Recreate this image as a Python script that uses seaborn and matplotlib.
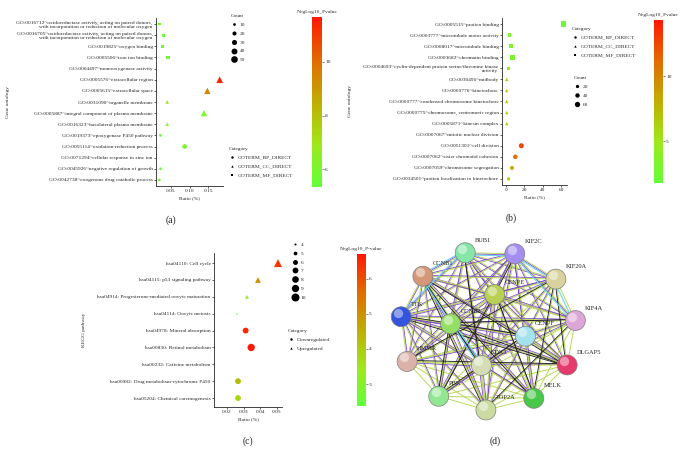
import numpy as np
import pandas as pd
import matplotlib
matplotlib.use("Agg")
import matplotlib.pyplot as plt
import seaborn as sns
from matplotlib.colors import LinearSegmentedColormap, Normalize
from matplotlib.cm import ScalarMappable
from matplotlib.lines import Line2D
from itertools import combinations

# ---------------- (a) GO enrichment ----------------
a_terms = [
    "GO:0016712~oxidoreductase activity, acting on paired donors,\nwith incorporation or reduction of molecular oxygen",
    "GO:0016705~oxidoreductase activity, acting on paired donors,\nwith incorporation or reduction of molecular oxygen",
    "GO:0019825~oxygen binding",
    "GO:0005506~iron ion binding",
    "GO:0004497~monooxygenase activity",
    "GO:0005576~extracellular region",
    "GO:0005615~extracellular space",
    "GO:0031090~organelle membrane",
    "GO:0005887~integral component of plasma membrane",
    "GO:0016323~basolateral plasma membrane",
    "GO:0019373~epoxygenase P450 pathway",
    "GO:0055114~oxidation-reduction process",
    "GO:0071294~cellular response to zinc ion",
    "GO:0045926~negative regulation of growth",
    "GO:0042738~exogenous drug catabolic process",
]
a_category = ["GOTERM_MF_DIRECT", "GOTERM_MF_DIRECT", "GOTERM_MF_DIRECT", "GOTERM_MF_DIRECT",
              "GOTERM_MF_DIRECT", "GOTERM_CC_DIRECT", "GOTERM_CC_DIRECT", "GOTERM_CC_DIRECT",
              "GOTERM_CC_DIRECT", "GOTERM_CC_DIRECT", "GOTERM_BP_DIRECT", "GOTERM_BP_DIRECT",
              "GOTERM_BP_DIRECT", "GOTERM_BP_DIRECT", "GOTERM_BP_DIRECT"]
a_ratio = [0.019, 0.031, 0.028, 0.042, np.nan, 0.181, 0.148, 0.040, 0.139, 0.040,
           0.022, 0.087, np.nan, 0.022, 0.019]
a_count = [4, 6, 6, 14, np.nan, 50, 46, 16, 46, 15, 5, 26, np.nan, 5, 4]
a_logp = [5.6, 5.7, 5.7, 5.9, np.nan, 11.5, 9.4, 7.0, 6.1, 6.3, 5.6, 6.0, np.nan, 5.5, 5.5]

# ---------------- (b) GO enrichment ----------------
b_terms = [
    "GO:0005515~protien binding",
    "GO:0003777~microtubule motor activity",
    "GO:0008017~microtubule binding",
    "GO:0003682~chromatin binding",
    "GO:0004693~cyclin-dependent protein serine/threonine kinase\nactivity",
    "GO:0030496~midbody",
    "GO:0000776~kinetochore",
    "GO:0000777~condensed chromosome kinetochore",
    "GO:0000775~chromosome, centromeric region",
    "GO:0005871~kinesin complex",
    "GO:0007067~mitotic nuclear division",
    "GO:0051301~cell division",
    "GO:0007062~sister chromatid cohesion",
    "GO:0007059~chromosome segregation",
    "GO:0034501~protien localization to kinetochore",
]
b_category = ["GOTERM_MF_DIRECT", "GOTERM_MF_DIRECT", "GOTERM_MF_DIRECT", "GOTERM_MF_DIRECT",
              "GOTERM_MF_DIRECT", "GOTERM_CC_DIRECT", "GOTERM_CC_DIRECT", "GOTERM_CC_DIRECT",
              "GOTERM_CC_DIRECT", "GOTERM_CC_DIRECT", "GOTERM_BP_DIRECT", "GOTERM_BP_DIRECT",
              "GOTERM_BP_DIRECT", "GOTERM_BP_DIRECT", "GOTERM_BP_DIRECT"]
b_ratio = [62, 3.9, 5.4, 7.2, 2.8, 0.8, 0.8, 0.8, 0.8, 0.8, np.nan, 16.6, 10.1, 6.5, 2.8]
b_count = [118, 23, 23, 42, 16, 23, 23, 22, 22, 22, np.nan, 53, 42, 32, 16]
b_logp = [2.2, 3.0, 3.4, 3.2, 4.0, 6.3, 6.3, 6.2, 6.2, 6.0, np.nan, 12.5, 11.0, 8.0, 6.0]

# ---------------- (c) KEGG ----------------
c_terms = [
    "hsa04110: Cell cycle",
    "hsa04115: p53 signaling pathway",
    "hsa04914: Progesterone-mediated oocyte maturation",
    "hsa04114: Oocyte meiosis",
    "hsa04978: Mineral absorption",
    "hsa00830: Retinol metabolism",
    "hsa00232: Caffeine metabolism",
    "hsa00982: Drug metabolism-cytochrome P450",
    "hsa05204: Chemical carcinogenesis",
]
c_category = ["Upregulated", "Upregulated", "Upregulated", "Upregulated",
              "Downregulated", "Downregulated", "Downregulated", "Downregulated", "Downregulated"]
c_ratio = [0.0506, 0.0386, 0.032, 0.026, 0.0312, 0.0345, np.nan, 0.0266, 0.0266]
c_count = [10, 7, 5, 4, 7, 9, np.nan, 7, 7]
c_logp = [6.3, 5.0, 3.0, 2.8, 6.5, 6.7, np.nan, 4.3, 3.8]

# ---------------- (d) STRING network ----------------
outer_nodes = ["BUB1", "KIF2C", "KIF20A", "KIF4A", "DLGAP5", "MELK", "TOP2A",
               "PBK", "HMMR", "TTK", "CCNB1"]
inner_nodes = ["CENPE", "CENPF", "CDK1", "CCNB2"]
node_colors = {"BUB1": "#86e6a8", "KIF2C": "#a48ef2", "KIF20A": "#d9d29c", "KIF4A": "#dca6d6",
               "DLGAP5": "#e63a6c", "MELK": "#48c848", "TOP2A": "#cadca2", "PBK": "#92e892",
               "HMMR": "#dab2aa", "TTK": "#3454e0", "CCNB1": "#d49878", "CENPE": "#b8d054",
               "CENPF": "#a4e2f2", "CDK1": "#d4ddb4", "CCNB2": "#94e064"}
hub_nodes = ["CDK1", "CCNB1", "CCNB2", "BUB1", "TTK", "KIF2C", "CENPE", "CENPF"]
coexp_edges = [("DLGAP5", "CCNB1"), ("DLGAP5", "TTK"), ("DLGAP5", "KIF20A"), ("DLGAP5", "CCNB2"),
               ("MELK", "CCNB1"), ("MELK", "KIF20A"), ("TOP2A", "CCNB1"), ("TOP2A", "KIF4A"),
               ("PBK", "CCNB2"), ("PBK", "CENPF"), ("HMMR", "KIF20A"), ("CDK1", "CCNB1"),
               ("CDK1", "BUB1"), ("CCNB2", "KIF4A"), ("TTK", "CENPF"), ("CENPE", "MELK"),
               ("KIF2C", "PBK"), ("HMMR", "DLGAP5")]
db_edges = [("BUB1", "KIF2C"), ("KIF2C", "KIF20A"), ("BUB1", "CCNB1"), ("CCNB1", "CDK1"),
            ("CDK1", "CCNB2"), ("KIF20A", "KIF4A"), ("KIF2C", "KIF4A"), ("BUB1", "TTK")]

W, H = 684, 462
cmap = LinearSegmentedColormap.from_list(
    "gr", ["#62ff3a", "#9ee81c", "#bfae00", "#e26a00", "#ff1800"])

sns.set_style("ticks")
plt.rcParams["font.family"] = ["Liberation Serif", "DejaVu Serif"]
plt.rcParams["axes.linewidth"] = 0.6

fig = plt.figure(figsize=(W / 100, H / 100), dpi=100)
FS = 3.9


def rect(l, t, r, b):
    return [l / W, 1 - b / H, (r - l) / W, (b - t) / H]


def dot_panel(ax, terms, cats, ratio, count, logp, markers, hnorm, sizes, snorm):
    df = pd.DataFrame({"Ratio": ratio, "Count": count, "Category": cats, "NegLog10_Pvalue": logp})
    df["pos"] = np.arange(len(terms))
    sns.scatterplot(data=df.dropna(), x="Ratio", y="pos", hue="NegLog10_Pvalue",
                    size="Count", style="Category", markers=markers, palette=cmap,
                    hue_norm=hnorm, sizes=sizes, size_norm=snorm, linewidth=0,
                    legend=False, ax=ax)
    ax.set_yticks(df["pos"])
    ax.set_yticklabels(terms, fontsize=FS)
    ax.set_ylim(len(terms) - 0.45, -0.55)
    ax.tick_params(length=1.5, width=0.5, pad=1, labelsize=FS)
    sns.despine(ax=ax)


def colorbar(rc, lo, hi, ticks, title):
    cax = fig.add_axes(rect(*rc))
    cb = fig.colorbar(ScalarMappable(norm=Normalize(lo, hi), cmap=cmap), cax=cax)
    cb.outline.set_visible(False)
    cb.set_ticks(ticks)
    cax.tick_params(length=1.2, width=0.4, pad=1, labelsize=FS)
    cax.set_title(title, fontsize=FS, pad=3)


def legend(handles, labels, x, y, title=None):
    leg = fig.legend(handles, labels, title=title, loc="upper left",
                     bbox_to_anchor=(x / W, 1 - y / H), frameon=False, fontsize=FS,
                     title_fontsize=FS, borderpad=0, borderaxespad=0, handlelength=1.2,
                     handletextpad=0.4, labelspacing=0.75)
    leg._legend_box.align = "left"
    return leg


def h(marker, s):
    return Line2D([], [], marker=marker, ls="", color="black", markersize=np.sqrt(s), mew=0)


go_markers = {"GOTERM_BP_DIRECT": "o", "GOTERM_CC_DIRECT": "^", "GOTERM_MF_DIRECT": "s"}
cat_handles = [h("o", 3), h("^", 3), h("s", 3)]
cat_labels = ["GOTERM_BP_DIRECT", "GOTERM_CC_DIRECT", "GOTERM_MF_DIRECT"]

# ---- panel a ----
ax_a = fig.add_axes(rect(156, 18, 223, 186))
dot_panel(ax_a, a_terms, a_category, a_ratio, a_count, a_logp, go_markers,
          (5.33, 11.68), (3.8, 23), (10, 50))
ax_a.set_xlim(0.01, 0.19)
ax_a.set_xticks([0.05, 0.10, 0.15])
ax_a.set_xticklabels(["0.05", "0.10", "0.15"])
ax_a.set_xlabel("Ratio (%)", fontsize=FS, labelpad=2)
ax_a.set_ylabel("Gene ontology", fontsize=FS)
ax_a.yaxis.set_label_coords(-2.18, 0.5)
colorbar((312, 17, 322, 187), 5.33, 11.68, [6, 8, 10], "NegLog10_Pvalue")
a_sizes = [10, 20, 30, 40, 50]
legend([h("o", 3.8 + (v - 10) / 40 * 19.2) for v in a_sizes], [str(v) for v in a_sizes], 231, 14, "Count")
legend(cat_handles, cat_labels, 229, 147, "Category")
fig.text(171, 1 - 220 / H, "", fontsize=1)
fig.text(171 / W, 1 - 220 / H, "(a)", ha="center", va="center", fontsize=7)

# ---- panel b ----
ax_b = fig.add_axes(rect(502, 18, 567, 185))
dot_panel(ax_b, b_terms, b_category, b_ratio, b_count, b_logp, go_markers,
          (1.8, 14.3), (5.6, 14.6), (20, 60))
ax_b.set_xlim(-4.3, 66)
ax_b.set_xticks([0, 20, 40, 60])
ax_b.set_xlabel("Ratio (%)", fontsize=FS, labelpad=2)
ax_b.set_ylabel("Gene ontology", fontsize=FS)
ax_b.yaxis.set_label_coords(-2.31, 0.5)
colorbar((654, 20, 663, 183), 1.8, 14.3, [5, 10], "NegLog10_Pvalue")
legend(cat_handles, cat_labels, 572, 27, "Category")
b_sizes = [20, 40, 60]
legend([h("o", 5.6 + (v - 20) / 40 * 9.0) for v in b_sizes], [str(v) for v in b_sizes], 574, 76, "Count")
fig.text(511 / W, 1 - 218 / H, "(b)", ha="center", va="center", fontsize=7)

# ---- panel c ----
ax_c = fig.add_axes(rect(214, 253, 282, 407))
dot_panel(ax_c, c_terms, c_category, c_ratio, c_count, c_logp,
          {"Downregulated": "o", "Upregulated": "^"}, (2.38, 6.7), (2.07, 33.2), (4, 10))
ax_c.set_ylim(len(c_terms) - 0.47, -0.6)
ax_c.set_xlim(0.0122, 0.053)
ax_c.set_xticks([0.02, 0.03, 0.04, 0.05])
ax_c.set_xlabel("Ratio (%)", fontsize=FS, labelpad=2)
ax_c.set_ylabel("KEGG pathway", fontsize=FS)
ax_c.yaxis.set_label_coords(-1.88, 0.5)
colorbar((357, 254, 366, 406), 2.38, 6.7, [3, 4, 5, 6], "NegLog10_P-value")
c_sizes = [4, 5, 6, 7, 8, 9, 10]
legend([h("o", 2.07 + (v - 4) / 6 * 31.1) for v in c_sizes], [str(v) for v in c_sizes], 292, 242)
legend([h("o", 3), h("^", 3)], ["Downregulated", "Upregulated"], 288, 329, "Category")
fig.text(248 / W, 1 - 441 / H, "(c)", ha="center", va="center", fontsize=7)

# ---- panel d ----
ax_d = fig.add_axes(rect(385, 228, 610, 428))
ax_d.set_xlim(385, 610)
ax_d.set_ylim(428, 228)
ax_d.axis("off")
cx, cy = 488, 330
pos = {}
for i, n in enumerate(outer_nodes):
    t = np.deg2rad(-105 + i * 360 / len(outer_nodes))
    pos[n] = (cx + 88 * np.cos(t), cy + 80 * np.sin(t))
for i, n in enumerate(inner_nodes):
    t = np.deg2rad(-80 + i * 360 / len(inner_nodes))
    pos[n] = (cx + 38 * np.cos(t), cy + 36 * np.sin(t))
all_nodes = outer_nodes + inner_nodes


def draw_edge(a, b, off, color, lw):
    (x1, y1), (x2, y2) = pos[a], pos[b]
    d = np.hypot(x2 - x1, y2 - y1)
    nx, ny = -(y2 - y1) / d * off, (x2 - x1) / d * off
    ax_d.plot([x1 + nx, x2 + nx], [y1 + ny, y2 + ny], color=color, lw=lw,
              solid_capstyle="butt", zorder=1)


for a, b in combinations(all_nodes, 2):
    draw_edge(a, b, 0, "#b8da5a", 0.7)
    if a in hub_nodes or b in hub_nodes:
        draw_edge(a, b, 1.1, "#7a40c8", 0.55)
for a, b in coexp_edges:
    draw_edge(a, b, -1.1, "#1a1a1a", 0.6)
for a, b in db_edges:
    draw_edge(a, b, 2.2, "#6cd4ee", 0.8)

xs = [pos[n][0] for n in all_nodes]
ys = [pos[n][1] for n in all_nodes]
ax_d.scatter(xs, ys, s=207, c=[node_colors[n] for n in all_nodes], edgecolors="#808080",
             linewidths=0.5, zorder=5)
ax_d.scatter([x - 3 for x in xs], [y - 4 for y in ys], s=45, c="white", alpha=0.45,
             linewidths=0, zorder=6)
for n in all_nodes:
    ax_d.annotate(n, pos[n], xytext=(7, 9), textcoords="offset points", fontsize=4.6,
                  ha="left", va="center", zorder=7)
fig.text(495 / W, 1 - 441 / H, "(d)", ha="center", va="center", fontsize=7)

fig.savefig("out.png", dpi=100, facecolor="white")
